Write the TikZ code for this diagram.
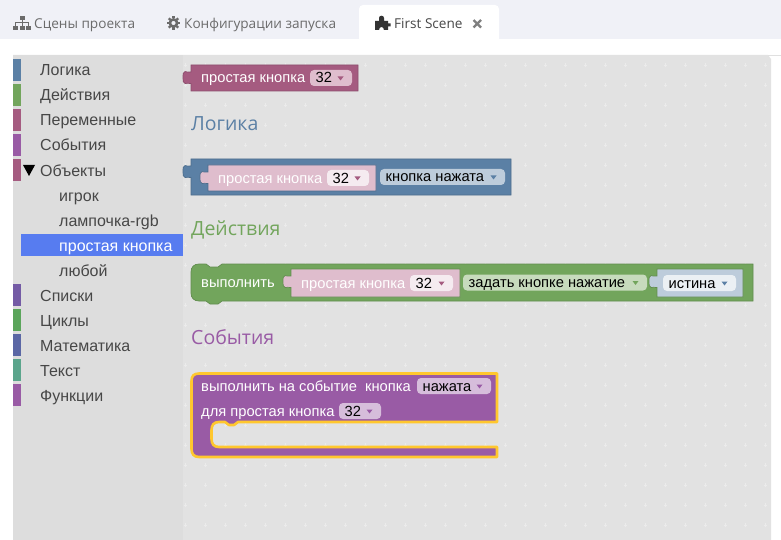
\documentclass[tikz,border=0pt]{standalone}
\usepackage{fontspec}
\setmainfont{Liberation Sans}
\newfontfamily\tabfont{Open Sans}
\usetikzlibrary{positioning}

\definecolor{tabbar}{HTML}{F0F1F7}
\definecolor{workspace}{HTML}{E2E2E2}
\definecolor{sidebar}{HTML}{DDDDDD}
\definecolor{selected}{HTML}{577CF0}
\definecolor{logiccol}{HTML}{5B80A5}
\definecolor{actioncol}{HTML}{72A55C}
\definecolor{varcol}{HTML}{A55B80}
\definecolor{eventcol}{HTML}{995BA5}
\definecolor{listcol}{HTML}{745BA5}
\definecolor{loopcol}{HTML}{5BA55B}
\definecolor{mathcol}{HTML}{5B67A5}
\definecolor{textcol}{HTML}{5BA58C}
\definecolor{varlight}{HTML}{DFBDCD}
\definecolor{logiclight}{HTML}{BDCCDB}
\definecolor{actionlight}{HTML}{C7DBBD}
\definecolor{eventlight}{HTML}{D6BDDB}
\definecolor{glow}{HTML}{FFC72E}

% block with an output tab on its left side: style, x1, y1, x2, y2
\newcommand{\tabblock}[5]{
  \draw[#1] (#2,#3) -- (#4,#3) -- (#4,#5) -- (#2,#5) -- (#2,#3+18.5)
    .. controls (#2-3,#3+17.5) and (#2-4,#3+19) .. (#2-6,#3+18.5)
    .. controls (#2-8,#3+18) and (#2-8,#3+16) .. (#2-8,#3+13)
    .. controls (#2-8,#3+9) and (#2-8,#3+7) .. (#2-6,#3+6.5)
    .. controls (#2-4,#3+6) and (#2-3,#3+8.5) .. (#2,#3+7) -- cycle;
}
% dropdown field: name, x1, x2, y top, fill, arrow colour, text
\newcommand{\dropfield}[7]{
  \fill[#5,rounded corners=4pt] (#2,#4) rectangle (#3,#4+16);
  \node[field text] at (#2+5.5,#4+13) (#1) {#7};
  \fill[#6] (#3-14.5,#4+6.5) -- (#3-8.5,#4+6.5) -- (#3-11.5,#4+10.5) -- cycle;
}

\begin{document}
\begin{tikzpicture}[x=1pt,y=-1pt,
    tab label/.style={font=\tabfont\fontsize{13.6}{15}\selectfont,anchor=base west,inner sep=0pt,text=black!58},
    side label/.style={font=\fontsize{16}{18}\selectfont,anchor=base west,inner sep=0pt,text=black!72},
    heading/.style={font=\tabfont\fontsize{19.5}{22}\selectfont,anchor=base west,inner sep=0pt},
    block text/.style={font=\fontsize{14.7}{16}\selectfont,anchor=base west,inner sep=0pt,text=white},
    field text/.style={font=\fontsize{14.7}{16}\selectfont,anchor=base west,inner sep=0pt,text=black},
    strip/.style={minimum width=8pt,minimum height=22pt,inner sep=0pt,anchor=north west}]
  \useasboundingbox (0,0) rectangle (781,540);
  \fill[white] (0,0) rectangle (781,540);

  % tab bar
  \fill[tabbar] (0,0) rectangle (781,39);
  \fill[white,rounded corners=4pt] (359,5) -- (499,5) -- (499,50) -- (359,50) -- cycle;
  \fill[white] (355,39) rectangle (503,50);
  \node[tab label] at (34,28.7) (scenes) {Сцены проекта};
  \node[tab label] at (184,28.7) (config) {Конфигурации запуска};
  \node[tab label,text=black!72] at (394,28.7) (first) {First Scene};

  % sitemap icon
  \begin{scope}[black!58]
    \fill (19.5,16) rectangle (24.5,20);
    \fill (13,26) rectangle (18,30);
    \fill (19.5,26) rectangle (24.5,30);
    \fill (26,26) rectangle (31,30);
    \draw[line width=1pt] (15.5,26) -- (15.5,22.5) -- (28.5,22.5) -- (28.5,26) (22,20) -- (22,26);
  \end{scope}
  % gear icon
  \draw[black!58,line width=2.6pt] (173.5,23) circle (3.6);
  \foreach \a in {0,45,...,315}
    \draw[black!58,line width=2.2pt] (173.5,23) ++(\a:4.5) -- ++(\a:2.2);
  % puzzle icon
  \fill[black!80] (375,21) -- (379,21) -- (379,18) .. controls (379,15) and (384,15) .. (384,18)
    -- (384,21) -- (388,21) -- (388,23.5) -- (390.5,23.5) -- (390.5,26.5) -- (388,26.5) -- (388,30)
    -- (384,30) .. controls (384,26) and (379,26) .. (379,30) -- (375,30) -- cycle;
  % close cross
  \draw[black!50,line width=2.2pt] (473.5,20) -- (481,27.5) (481,20) -- (473.5,27.5);

  % workspace with its grid of small crosses
  \fill[workspace] (13,55) -- (768,55) -- (771,59) -- (771,540) -- (13,540) -- cycle;
  \draw[black!12,line width=0.6pt] (768,55) -- (781,55);
  \foreach \x in {185.5,205.5,...,765.5}
    \foreach \y in {65,85,...,525}
      \draw[white!30!workspace,line width=0.8pt] (\x-1.7,\y) -- (\x+1.7,\y) (\x,\y-1.7) -- (\x,\y+1.7);

  % toolbox
  \fill[sidebar] (13,55) rectangle (183,540);
  \foreach \n/\col/\y in {logic/logiccol/59,action/actioncol/84,var/varcol/109,event/eventcol/134,obj/varcol/159,
                          list/listcol/284,loop/loopcol/309,math/mathcol/334,text/textcol/359,func/eventcol/384}
    \node[strip,fill=\col] at (13,\y) (strip\n) {};
  \fill[selected] (21,234) rectangle (183,256);
  \fill[black] (23,165) -- (35,165) -- (29,176) -- cycle;

  \node[side label] at (40,76) (logic) {Логика};
  \node[side label] at (40,101) (action) {Действия};
  \node[side label] at (40,126) (vars) {Переменные};
  \node[side label] at (40,151) (events) {События};
  \node[side label] at (40,176) (objects) {Объекты};
  \node[side label] at (59,201) (player) {игрок};
  \node[side label] at (59,226) (lamp) {лампочка-rgb};
  \node[side label,text=white] at (59,251) (button) {простая кнопка};
  \node[side label] at (59,276) (anyone) {любой};
  \node[side label] at (40,301) (lists) {Списки};
  \node[side label] at (40,326) (loops) {Циклы};
  \node[side label] at (40,351) (maths) {Математика};
  \node[side label] at (40,376) (texts) {Текст};
  \node[side label] at (40,401) (funcs) {Функции};

  % plain button block
  \tabblock{fill=varcol,draw=varcol!85!black,line width=0.7pt}{191}{65}{358}{91}
  \node[block text] at (201,83) (plain) {простая кнопка};
  \dropfield{plainnum}{310}{352}{70}{varlight}{varcol}{32}

  % logic block
  \node[heading,text=logiccol] at (191,130.3) (logichead) {Логика};
  \tabblock{fill=logiccol,draw=logiccol!85!black,line width=0.7pt}{191}{159}{511}{195}
  \tabblock{fill=varlight,draw=logiccol!85!black,line width=0.7pt}{208}{165}{376}{191}
  \node[block text] at (218,183) (logicbtn) {простая кнопка};
  \dropfield{logicnum}{327}{369}{170}{white!70!varlight}{varcol}{32}
  \dropfield{logicstate}{380}{505}{169}{logiclight}{logiccol}{кнопка нажата}

  % action block
  \node[heading,text=actioncol] at (191,235.3) (actionhead) {Действия};
  \draw[fill=actioncol,draw=actioncol!85!black,line width=0.7pt] (199,264) -- (206,264) -- (210,267) -- (218,267) -- (222,264)
    -- (753,264) -- (753,301) -- (222,301) -- (218,304) -- (210,304) -- (206,301) -- (199,301)
    .. controls (194,301) and (191,298) .. (191,293) -- (191,272) .. controls (191,267) and (194,264) .. (199,264) -- cycle;
  \node[block text] at (201,287) (doit) {выполнить};
  \tabblock{fill=varlight,draw=actioncol!85!black,line width=0.7pt}{291}{269}{460}{297}
  \node[block text] at (301,288) (actionbtn) {простая кнопка};
  \dropfield{actionnum}{410}{453}{275}{white!70!varlight}{varcol}{32}
  \dropfield{actionset}{463}{647}{274.5}{actionlight}{actioncol}{задать кнопке нажатие}
  \tabblock{fill=logiclight,draw=actioncol!85!black,line width=0.7pt}{657}{269}{743}{297}
  \dropfield{actiontrue}{663}{736}{275}{white!70!logiclight}{logiccol}{истина}

  % event block
  \node[heading,text=eventcol] at (191,344.3) (eventhead) {События};
  \draw[fill=eventcol,draw=glow,line width=2.6pt,line join=round] (199,373.5) -- (497,373.5) -- (497,422) -- (238,422)
    -- (234,425) -- (229,425) -- (225,422) -- (219,422) .. controls (214,422) and (211.5,425) .. (211.5,430)
    -- (211.5,439) .. controls (211.5,444) and (214,447) .. (219,447) -- (497,447) -- (497,457) -- (199,457)
    .. controls (194,457) and (191.5,454) .. (191.5,449) -- (191.5,381) .. controls (191.5,376) and (194,373.5) .. (199,373.5) -- cycle;
  \node[block text] at (201,391) (onevent) {выполнить на событие \ кнопка};
  \dropfield{eventstate}{417}{491}{378}{eventlight}{eventcol}{нажата}
  \node[block text] at (201,416) (forbtn) {для простая кнопка};
  \dropfield{eventnum}{339}{381}{403}{eventlight}{eventcol}{32}
\end{tikzpicture}
\end{document}
